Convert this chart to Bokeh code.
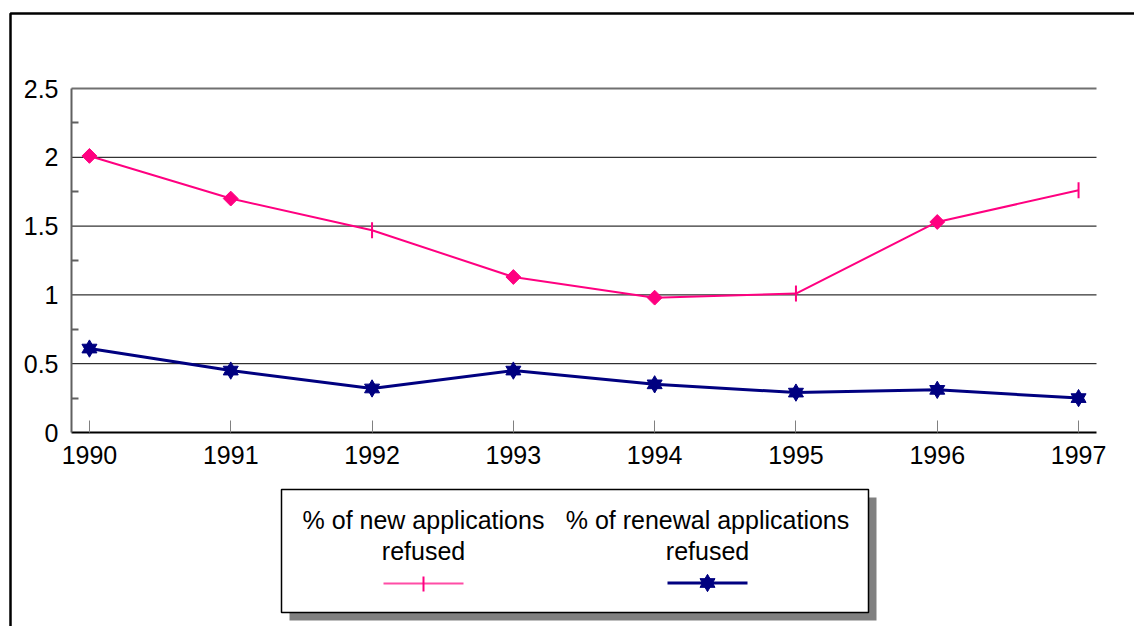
from bokeh.plotting import figure
from bokeh.models import (Range1d, FixedTicker, BoxAnnotation, Label, PolyAnnotation)
from bokeh.embed import file_html
from bokeh.resources import INLINE
import math

# ---- data ----
years = [1990, 1991, 1992, 1993, 1994, 1995, 1996, 1997]
new_refused = [2.01, 1.70, 1.47, 1.13, 0.98, 1.01, 1.53, 1.76]
renewal_refused = [0.61, 0.45, 0.32, 0.45, 0.35, 0.29, 0.31, 0.25]
y_ticks = [0, 0.5, 1, 1.5, 2, 2.5]
y_tick_labels = ["0", "0.5", "1", "1.5", "2", "2.5"]
legend_labels = [["% of new applications", "refused"],
                 ["% of renewal applications", "refused"]]

# marker style per point of the first series (as drawn in the original)
new_marker_kind = ["diamond", "diamond", "dash", "diamond", "diamond", "dash", "diamond", "dash"]

PINK = "#FF0080"
NAVY = "#000080"
FONT = "Liberation Sans"

W, H = 1134, 626
FL, FR, FT, FB = 71, 1096, 88, 432          # plot area in canvas pixels
X0, X1, Y0, Y1 = 1989.873, 1997.127, 0.0, 2.5
kx = (X1 - X0) / (FR - FL)
ky = (Y1 - Y0) / (FB - FT)

# the frame covers the whole canvas; the axes sit at fixed data locations
p = figure(width=W, height=H, output_backend="svg", toolbar_location=None,
           x_range=Range1d(X0 - FL * kx, X1 + (W - FR) * kx),
           y_range=Range1d(Y0 - (H - FB) * ky, Y1 + FT * ky),
           min_border=0)
p.outline_line_color = None
p.background_fill_color = "white"
p.border_fill_color = "white"


def cx(px):  # canvas x pixel -> data x (for decorations)
    return X0 + (px - FL) * kx


def cy(py):  # canvas y pixel -> data y
    return Y1 - (py - FT) * ky


# axes
p.xaxis.fixed_location = Y0
p.xaxis.bounds = (X0, X1)
p.xaxis.ticker = FixedTicker(ticks=years)
p.xaxis.major_label_overrides = {y: str(y) for y in years}
p.xaxis.major_tick_in = 12
p.xaxis.major_tick_out = 0
p.xaxis.major_tick_line_color = "#808080"
p.xaxis.minor_tick_line_color = None
p.xaxis.axis_line_color = "black"
p.xaxis.axis_line_width = 2
p.xaxis.major_label_text_font = FONT
p.xaxis.major_label_text_font_size = "25px"
p.xaxis.major_label_text_color = "black"
p.xaxis.major_label_standoff = 13

minor = [0.25, 0.75, 1.25, 1.75, 2.25]
p.yaxis.fixed_location = X0
p.yaxis.bounds = (Y0, Y1)
p.yaxis.ticker = FixedTicker(ticks=y_ticks, minor_ticks=minor)
p.yaxis.major_label_overrides = dict(zip(y_ticks, y_tick_labels))
p.yaxis.major_tick_in = 0
p.yaxis.major_tick_out = 0
p.yaxis.minor_tick_in = 7
p.yaxis.minor_tick_out = 0
p.yaxis.minor_tick_line_color = "#606060"
p.yaxis.minor_tick_line_width = 2
p.yaxis.axis_line_color = "#606060"
p.yaxis.axis_line_width = 2
p.yaxis.major_label_text_font = FONT
p.yaxis.major_label_text_font_size = "25px"
p.yaxis.major_label_text_color = "black"
p.yaxis.major_label_standoff = 13

p.xgrid.visible = False
p.ygrid.visible = False

# horizontal gridlines across the plot area
grid_y = y_ticks[1:-1]
p.segment(x0=[X0] * len(grid_y), x1=[X1] * len(grid_y), y0=grid_y, y1=grid_y,
          line_color="black", line_width=1)
p.segment(x0=[X0], x1=[X1], y0=[Y1], y1=[Y1], line_color="#707070", line_width=2)

# series 1: new applications
p.line(years, new_refused, line_color=PINK, line_width=2)
dxs = [x for x, k in zip(years, new_marker_kind) if k == "diamond"]
dys = [v for v, k in zip(new_refused, new_marker_kind) if k == "diamond"]
txs = [x for x, k in zip(years, new_marker_kind) if k == "dash"]
tys = [v for v, k in zip(new_refused, new_marker_kind) if k == "dash"]
p.scatter(dxs, dys, marker="square", size=10.5, angle=math.pi / 4, fill_color=PINK, line_color=PINK)
p.scatter(txs, tys, marker="dash", size=16, angle=math.pi / 2, line_color=PINK, line_width=2)

# series 2: renewal applications
p.line(years, renewal_refused, line_color=NAVY, line_width=3)
p.scatter(years, renewal_refused, marker="triangle", size=15, fill_color=NAVY, line_color=NAVY)
p.scatter(years, renewal_refused, marker="inverted_triangle", size=15, fill_color=NAVY, line_color=NAVY)


def box(l, r, t, b, **kw):
    p.add_layout(BoxAnnotation(left=cx(l), right=cx(r), top=cy(t), bottom=cy(b), **kw))


# outer chart border (continues beyond the right and bottom edges)
box(10, 1300, 13, 900, fill_color=None, fill_alpha=0, line_color="black",
    line_alpha=1, line_width=2.5)

# legend box with shadow
box(289, 876, 497, 620, fill_color="#808080", fill_alpha=1, line_color=None)
box(281, 868, 489, 612, fill_color="white", fill_alpha=1, line_color="black",
    line_alpha=1, line_width=1.5)

centers = [423, 707]
for c, lines in zip(centers, legend_labels):
    for i, t in enumerate(lines):
        p.add_layout(Label(x=cx(c), y=cy(519 + 31 * i), text=t, text_align="center",
                           text_baseline="alphabetic", text_font=FONT,
                           text_font_size="25px", text_color="black"))

# legend sample: pink line with vertical dash
box(centers[0] - 40, centers[0] + 40, 582, 584, fill_color="#FF4DA6", fill_alpha=1, line_color=None)
box(centers[0] - 1, centers[0] + 1, 576, 591, fill_color=PINK, fill_alpha=1, line_color=None)
# legend sample: navy line with hexagram
box(centers[1] - 40, centers[1] + 40, 581, 584, fill_color=NAVY, fill_alpha=1, line_color=None)
r = 7.5
a = r * math.sqrt(3) / 3
sy = 582.5
for sgn in (1, -1):
    xs = [cx(centers[1] - r), cx(centers[1] + r), cx(centers[1])]
    ys = [cy(sy + sgn * a), cy(sy + sgn * a), cy(sy - sgn * 2 * a)]
    p.add_layout(PolyAnnotation(xs=xs, ys=ys, fill_color=NAVY, fill_alpha=1,
                                line_color=NAVY, line_alpha=1, line_width=1))

open("out.html", "w").write(file_html(p, INLINE))
